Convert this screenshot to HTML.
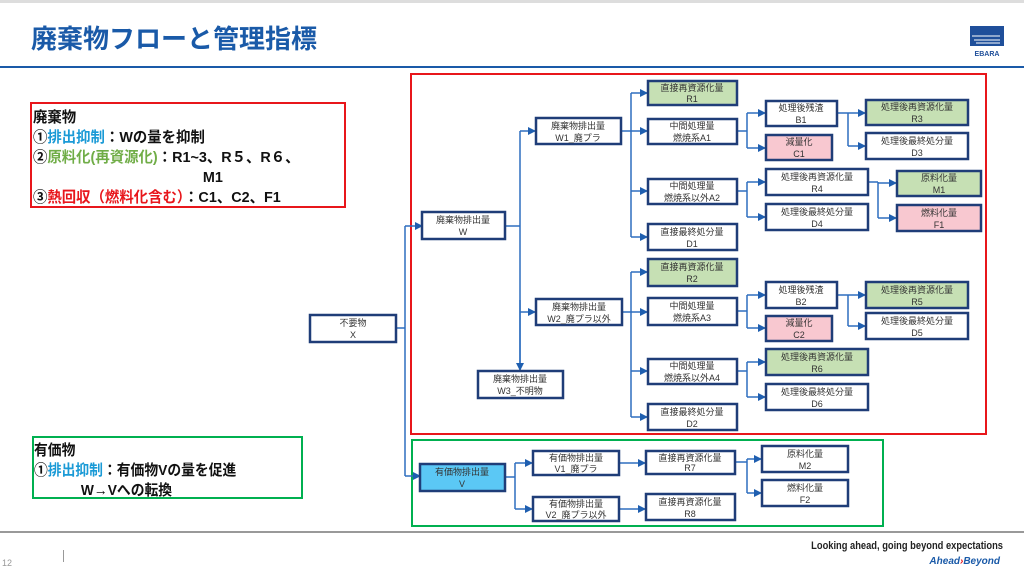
<!DOCTYPE html>
<html><head><meta charset="utf-8">
<style>
html,body{margin:0;padding:0;background:#fff;}
body{width:1024px;height:578px;overflow:hidden;position:relative;font-family:"Liberation Sans","Noto Sans CJK JP",sans-serif;}
svg{position:absolute;left:0;top:0;}
.n{font-family:"Liberation Sans","Noto Sans CJK JP",sans-serif;font-size:9px;fill:#333;text-anchor:middle;}
.b{fill:#fff;stroke:#1f3d78;stroke-width:2.5;}
.g{fill:#c6e0b4;stroke:#1f3d78;stroke-width:2.5;}
.p{fill:#f8c8d0;stroke:#1f3d78;stroke-width:2.5;}
.c{fill:#5bc8f5;stroke:#1f3d78;stroke-width:2.5;}
.l{fill:none;stroke:#2e6ebf;stroke-width:1.5;}
.t{font-family:"Liberation Sans","Noto Sans CJK JP",sans-serif;font-size:15px;font-weight:bold;fill:#111;}
.u{font-family:"Liberation Sans","Noto Sans CJK JP",sans-serif;font-size:15px;font-weight:bold;fill:#111;}
</style></head><body>
<svg width="1024" height="578" viewBox="0 0 1024 578">
<defs><marker id="a" markerWidth="8" markerHeight="8" refX="7" refY="4" orient="auto" markerUnits="userSpaceOnUse"><path d="M0,0 L8,4 L0,8 z" fill="#1f5fb0"/></marker></defs>
<rect x="0" y="0" width="1024" height="3" fill="#ddd"/>
<text x="31" y="48" font-family="Liberation Sans,Noto Sans CJK JP,sans-serif" font-size="26" font-weight="bold" fill="#1a5aa8">廃棄物フローと管理指標</text>
<rect x="0" y="66" width="1024" height="2" fill="#1a5aa8"/>
<rect x="970" y="26" width="34" height="20" fill="#1f4f9a"/>
<path d="M972,36 h28 M974,40 h26 M976,43 h24" stroke="#fff" stroke-width="1"/>
<text x="987" y="56" font-size="7" font-weight="bold" fill="#1f4f9a" text-anchor="middle" font-family="Liberation Sans,sans-serif">EBARA</text>

<rect x="31" y="103" width="314" height="104" fill="none" stroke="#e8161b" stroke-width="2"/>
<g transform="translate(33,0) scale(0.96,1) translate(-33,0)">
<text class="t" x="33" y="122">廃棄物</text>
<text class="t" x="33" y="142">①<tspan fill="#1a9ad6">排出抑制</tspan>：Wの量を抑制</text>
<text class="t" x="33" y="162">②<tspan fill="#70ad47">原料化(再資源化)</tspan>：R1~3、R５、R６、</text>
<text class="t" x="210" y="182">M1</text>
<text class="t" x="33" y="202">③<tspan fill="#e8161b">熱回収（燃料化含む）</tspan>：C1、C2、F1</text>
</g>

<rect x="33" y="437" width="269" height="61" fill="none" stroke="#00b050" stroke-width="2"/>
<g transform="translate(34,0) scale(0.92,1) translate(-34,0)">
<text class="u" x="34" y="455">有価物</text>
<text class="u" x="34" y="475">①<tspan fill="#1a9ad6">排出抑制</tspan>：有価物Vの量を促進</text>
<text class="u" x="85" y="495">W→Vへの転換</text>
</g>

<rect x="411" y="74" width="575" height="360" fill="none" stroke="#e8161b" stroke-width="2"/>
<rect x="412" y="440" width="471" height="86" fill="none" stroke="#00b050" stroke-width="2"/>

<path class="l" d="M396,328 H405 M405,226 V476"/>
<path class="l" d="M405,226 H422" marker-end="url(#a)"/>
<path class="l" d="M405,476 H420" marker-end="url(#a)"/>
<path class="l" d="M505,226 H520 M520,131 V369"/>
<path class="l" d="M520,131 H535" marker-end="url(#a)"/>
<path class="l" d="M520,312 H535" marker-end="url(#a)"/>
<path class="l" d="M520,300 V370" marker-end="url(#a)"/>
<path class="l" d="M621,131 H631 M631,93 V237"/>
<path class="l" d="M631,93 H647" marker-end="url(#a)"/>
<path class="l" d="M631,131 H647" marker-end="url(#a)"/>
<path class="l" d="M631,191 H647" marker-end="url(#a)"/>
<path class="l" d="M631,237 H647" marker-end="url(#a)"/>
<path class="l" d="M737,131 H747 M747,113 V148"/>
<path class="l" d="M747,113 H765" marker-end="url(#a)"/>
<path class="l" d="M747,148 H765" marker-end="url(#a)"/>
<path class="l" d="M837,113 H848 M848,113 V146"/>
<path class="l" d="M848,113 H865" marker-end="url(#a)"/>
<path class="l" d="M848,146 H865" marker-end="url(#a)"/>
<path class="l" d="M737,191 H747 M747,182 V217"/>
<path class="l" d="M747,182 H765" marker-end="url(#a)"/>
<path class="l" d="M747,217 H765" marker-end="url(#a)"/>
<path class="l" d="M868,182 H878 M878,182 V218"/>
<path class="l" d="M878,183 H896" marker-end="url(#a)"/>
<path class="l" d="M878,218 H896" marker-end="url(#a)"/>
<path class="l" d="M622,312 H631 M631,272 V417"/>
<path class="l" d="M631,272 H647" marker-end="url(#a)"/>
<path class="l" d="M631,312 H647" marker-end="url(#a)"/>
<path class="l" d="M631,371 H647" marker-end="url(#a)"/>
<path class="l" d="M631,417 H647" marker-end="url(#a)"/>
<path class="l" d="M737,311 H747 M747,295 V328"/>
<path class="l" d="M747,295 H765" marker-end="url(#a)"/>
<path class="l" d="M747,328 H765" marker-end="url(#a)"/>
<path class="l" d="M837,295 H848 M848,295 V326"/>
<path class="l" d="M848,295 H865" marker-end="url(#a)"/>
<path class="l" d="M848,326 H865" marker-end="url(#a)"/>
<path class="l" d="M737,371 H747 M747,362 V397"/>
<path class="l" d="M747,362 H765" marker-end="url(#a)"/>
<path class="l" d="M747,397 H765" marker-end="url(#a)"/>
<path class="l" d="M505,477 H515 M515,463 V509"/>
<path class="l" d="M515,463 H532" marker-end="url(#a)"/>
<path class="l" d="M515,509 H532" marker-end="url(#a)"/>
<path class="l" d="M619,463 H645" marker-end="url(#a)"/>
<path class="l" d="M619,509 H645" marker-end="url(#a)"/>
<path class="l" d="M735,462 H747 M747,459 V493"/>
<path class="l" d="M747,459 H761" marker-end="url(#a)"/>
<path class="l" d="M747,493 H761" marker-end="url(#a)"/>

<rect class="b" x="310" y="315" width="86" height="27"/><text class="n" x="353" y="326">不要物</text><text class="n" x="353" y="338">X</text>
<rect class="b" x="422" y="212" width="83" height="27"/><text class="n" x="463" y="223">廃棄物排出量</text><text class="n" x="463" y="235">W</text>
<rect class="b" x="536" y="118" width="85" height="26"/><text class="n" x="578" y="129">廃棄物排出量</text><text class="n" x="578" y="141">W1_廃プラ</text>
<rect class="b" x="536" y="299" width="86" height="26"/><text class="n" x="579" y="310">廃棄物排出量</text><text class="n" x="579" y="322">W2_廃プラ以外</text>
<rect class="b" x="478" y="371" width="85" height="27"/><text class="n" x="520" y="382">廃棄物排出量</text><text class="n" x="520" y="394">W3_不明物</text>

<rect class="g" x="648" y="81" width="89" height="24"/><text class="n" x="692" y="91">直接再資源化量</text><text class="n" x="692" y="102">R1</text>
<rect class="b" x="648" y="119" width="89" height="25"/><text class="n" x="692" y="129">中間処理量</text><text class="n" x="692" y="141">燃焼系A1</text>
<rect class="b" x="648" y="179" width="89" height="25"/><text class="n" x="692" y="189">中間処理量</text><text class="n" x="692" y="201">燃焼系以外A2</text>
<rect class="b" x="648" y="224" width="89" height="26"/><text class="n" x="692" y="235">直接最終処分量</text><text class="n" x="692" y="247">D1</text>
<rect class="b" x="766" y="101" width="71" height="25"/><text class="n" x="801" y="111">処理後残渣</text><text class="n" x="801" y="123">B1</text>
<rect class="p" x="766" y="135" width="66" height="25"/><text class="n" x="799" y="145">減量化</text><text class="n" x="799" y="157">C1</text>
<rect class="g" x="866" y="100" width="102" height="25"/><text class="n" x="917" y="110">処理後再資源化量</text><text class="n" x="917" y="122">R3</text>
<rect class="b" x="866" y="133" width="102" height="26"/><text class="n" x="917" y="144">処理後最終処分量</text><text class="n" x="917" y="156">D3</text>
<rect class="b" x="766" y="169" width="102" height="26"/><text class="n" x="817" y="180">処理後再資源化量</text><text class="n" x="817" y="192">R4</text>
<rect class="b" x="766" y="204" width="102" height="26"/><text class="n" x="817" y="215">処理後最終処分量</text><text class="n" x="817" y="227">D4</text>
<rect class="g" x="897" y="171" width="84" height="25"/><text class="n" x="939" y="181">原料化量</text><text class="n" x="939" y="193">M1</text>
<rect class="p" x="897" y="205" width="84" height="26"/><text class="n" x="939" y="216">燃料化量</text><text class="n" x="939" y="228">F1</text>

<rect class="g" x="648" y="259" width="89" height="27"/><text class="n" x="692" y="270">直接再資源化量</text><text class="n" x="692" y="282">R2</text>
<rect class="b" x="648" y="298" width="89" height="27"/><text class="n" x="692" y="309">中間処理量</text><text class="n" x="692" y="321">燃焼系A3</text>
<rect class="b" x="648" y="359" width="89" height="25"/><text class="n" x="692" y="369">中間処理量</text><text class="n" x="692" y="381">燃焼系以外A4</text>
<rect class="b" x="648" y="404" width="89" height="26"/><text class="n" x="692" y="415">直接最終処分量</text><text class="n" x="692" y="427">D2</text>
<rect class="b" x="766" y="282" width="71" height="26"/><text class="n" x="801" y="293">処理後残渣</text><text class="n" x="801" y="305">B2</text>
<rect class="p" x="766" y="316" width="66" height="25"/><text class="n" x="799" y="326">減量化</text><text class="n" x="799" y="338">C2</text>
<rect class="g" x="866" y="282" width="102" height="26"/><text class="n" x="917" y="293">処理後再資源化量</text><text class="n" x="917" y="305">R5</text>
<rect class="b" x="866" y="313" width="102" height="26"/><text class="n" x="917" y="324">処理後最終処分量</text><text class="n" x="917" y="336">D5</text>
<rect class="g" x="766" y="349" width="102" height="26"/><text class="n" x="817" y="360">処理後再資源化量</text><text class="n" x="817" y="372">R6</text>
<rect class="b" x="766" y="384" width="102" height="26"/><text class="n" x="817" y="395">処理後最終処分量</text><text class="n" x="817" y="407">D6</text>

<rect class="c" x="420" y="464" width="85" height="27"/><text class="n" x="462" y="475">有価物排出量</text><text class="n" x="462" y="487">V</text>
<rect class="b" x="533" y="451" width="86" height="24"/><text class="n" x="576" y="461">有価物排出量</text><text class="n" x="576" y="472">V1_廃プラ</text>
<rect class="b" x="533" y="497" width="86" height="24"/><text class="n" x="576" y="507">有価物排出量</text><text class="n" x="576" y="518">V2_廃プラ以外</text>
<rect class="b" x="646" y="451" width="89" height="23"/><text class="n" x="690" y="461">直接再資源化量</text><text class="n" x="690" y="471">R7</text>
<rect class="b" x="646" y="494" width="89" height="26"/><text class="n" x="690" y="505">直接再資源化量</text><text class="n" x="690" y="517">R8</text>
<rect class="b" x="762" y="446" width="86" height="26"/><text class="n" x="805" y="457">原料化量</text><text class="n" x="805" y="469">M2</text>
<rect class="b" x="762" y="480" width="86" height="26"/><text class="n" x="805" y="491">燃料化量</text><text class="n" x="805" y="503">F2</text>

<rect x="0" y="531" width="1024" height="2" fill="#999"/>
<text x="2" y="566" font-size="9" fill="#999" font-family="Liberation Sans,sans-serif">12</text>
<rect x="63" y="550" width="1" height="12" fill="#999"/>
<text x="1003" y="549" font-size="11" fill="#222" text-anchor="end" font-family="Liberation Sans,sans-serif" font-weight="bold" transform="translate(1003,0) scale(0.85,1) translate(-1003,0)">Looking ahead, going beyond expectations</text>
<text x="1000" y="564" font-size="10" fill="#1a5aa8" text-anchor="end" font-style="italic" font-weight="bold" font-family="Liberation Sans,sans-serif">Ahead<tspan fill="#e8161b">›</tspan>Beyond</text>
</svg>
</body></html>
